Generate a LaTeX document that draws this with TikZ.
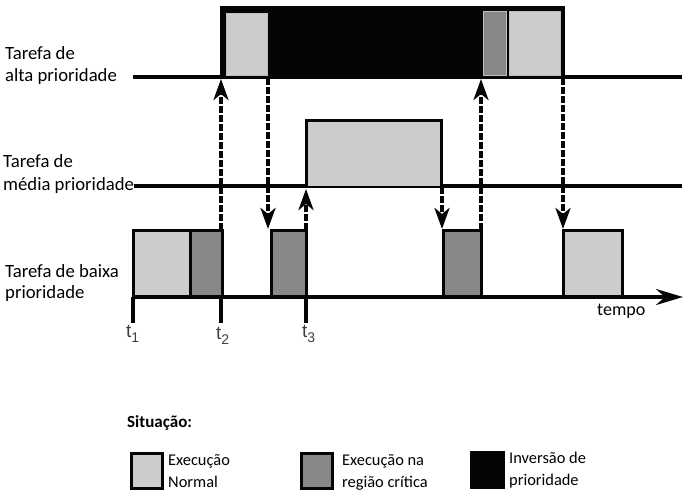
\documentclass[tikz,border=0pt]{standalone}
\usepackage{fontspec}
\setmainfont{Carlito}
\newfontfamily\helv{Liberation Sans}
\usetikzlibrary{arrows.meta}
\definecolor{lg}{HTML}{CCCCCC}
\definecolor{dg}{HTML}{888888}
\definecolor{bk}{HTML}{050505}
\begin{document}
\begin{tikzpicture}[x=1pt,y=-1pt,
  track/.style={line width=3.5pt,draw=bk},
  blk/.style={draw=bk,line width=3pt},
  normal/.style={blk,fill=lg},
  critic/.style={blk,fill=dg},
  inner/.style={draw=white!75!black,line width=0.8pt},
  sig/.style={line width=3.6pt,draw=bk,dash pattern=on 7pt off 2pt,
     -{Stealth[length=21pt,width=15pt,inset=6pt]}},
  lbl/.style={font=\fontsize{18.7}{22}\selectfont,anchor=base west,inner sep=0pt},
  leg/.style={font=\fontsize{16.4}{20}\selectfont,anchor=base west,inner sep=0pt},
  tl/.style={font=\helv\fontsize{19}{22}\selectfont,text=black!75,anchor=base west,inner sep=0pt}]
\useasboundingbox (0,0) rectangle (689,496);
% tracks
\draw[track] (133,77) -- (682,77);
\draw[track] (134,186) -- (682,186);
% high priority block
\draw[blk,fill=bk] (221,77) -- (221,7) -- (563,7) -- (563,77);
\fill[bk] (221,7) rectangle (563,77);
\draw[inner,fill=lg] (226,13) rectangle (267,75);
\draw[inner,fill=dg] (483,11) rectangle (506,75);
\draw[inner,fill=lg] (509,11) rectangle (560,75);
% medium block
\fill[lg] (306,120) rectangle (441,186);
\draw[blk] (306,186) -- (306,120) -- (441,120) -- (441,186);
% low blocks
\draw[normal] (133,230) rectangle (190,297);
\draw[critic] (190,230) rectangle (222,297);
\draw[critic] (271,230) rectangle (306,297);
\draw[critic] (443,230) rectangle (481,297);
\draw[normal] (563,230) rectangle (622,297);
% time axis
\coordinate (ax0) at (133,297);
\coordinate (ax1) at (683,297);
\draw[track,-{Stealth[length=27pt,width=16pt,inset=9pt]}] (ax0) -- (ax1);
\node[font=\fontsize{18}{20}\selectfont,anchor=base west,inner sep=0pt] (tempo) at (597,315) {tempo};
% ticks
\draw[track] (133,297) -- (133,323);
\draw[track] (221,297) -- (221,323);
\draw[track] (306,297) -- (306,323);
\node[tl] (t1) at (126,337) {t\raisebox{-0.3em}{\fontsize{14}{16}\selectfont 1}};
\node[tl] (t2) at (216,339) {t\raisebox{-0.3em}{\fontsize{14}{16}\selectfont 2}};
\node[tl] (t3) at (302,337) {t\raisebox{-0.3em}{\fontsize{14}{16}\selectfont 3}};
% signal arrows
\coordinate (a1s) at (221,230); \coordinate (a1e) at (221,79);
\coordinate (a2s) at (268,78);  \coordinate (a2e) at (268,229);
\coordinate (a3s) at (306,230); \coordinate (a3e) at (306,189);
\coordinate (a4s) at (442,187); \coordinate (a4e) at (442,229);
\coordinate (a5s) at (481,230); \coordinate (a5e) at (481,79);
\coordinate (a6s) at (563,78);  \coordinate (a6e) at (563,229);
\draw[sig] (a1s) -- (a1e);
\draw[sig] (a2s) -- (a2e);
\draw[sig] (a3s) -- (a3e);
\draw[sig] (a4s) -- (a4e);
\draw[sig] (a5s) -- (a5e);
\draw[sig] (a6s) -- (a6e);
% labels
\node[lbl] (h1) at (5,59) {Tarefa de};
\node[lbl] (h2) at (5,81) {alta prioridade};
\node[lbl] (m1) at (3,167) {Tarefa de};
\node[lbl] (m2) at (3,190) {média prioridade};
\node[lbl] (l1) at (5,277) {Tarefa de baixa};
\node[lbl] (l2) at (5,298) {prioridade};
% legend
\node[leg,font=\bfseries\fontsize{17}{20}\selectfont] (sit) at (127,427) {Situação:};
\draw[blk,fill=lg] (131,453) rectangle (162,488);
\node[leg] (e1) at (168,465) {Execução};
\node[leg] (e2) at (168,487) {Normal};
\draw[blk,fill=dg] (301,453) rectangle (332,488);
\node[leg] (c1) at (342,465) {Execução na};
\node[leg] (c2) at (342,487) {região crítica};
\fill[bk] (470,451) rectangle (505,489);
\node[leg] (i1) at (509,463) {Inversão de};
\node[leg] (i2) at (509,485) {prioridade};
\end{tikzpicture}
\end{document}
